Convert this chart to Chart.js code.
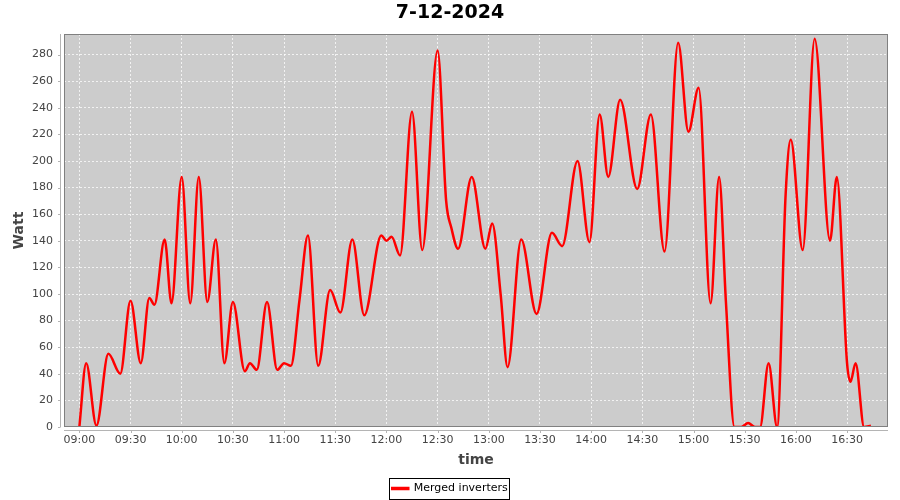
<!DOCTYPE html>
<html>
<head>
<meta charset="utf-8">
<script src="https://cdn.jsdelivr.net/npm/chart.js@4.4.1/dist/chart.umd.min.js"></script>
<style>
  html, body { margin: 0; padding: 0; background: #fff; }
</style>
</head>
<body>
<canvas id="powerChart" width="900" height="500"></canvas>
<script>
// readings of the merged inverters, time of day -> watt
const times = [
    '09:00', '09:04', '09:10', '09:17', '09:24', '09:30', '09:36', '09:41', '09:44', '09:50',
    '09:54', '10:00', '10:05', '10:10', '10:15', '10:20', '10:25', '10:30', '10:37', '10:40',
    '10:44', '10:50', '10:56', '11:00', '11:04', '11:09', '11:14', '11:20', '11:27', '11:33',
    '11:40', '11:47', '11:57', '12:00', '12:03', '12:08', '12:15', '12:21', '12:30', '12:35',
    '12:38', '12:42', '12:50', '12:58', '13:02', '13:07', '13:11', '13:19', '13:28', '13:37',
    '13:43', '13:52', '13:59', '14:05', '14:10', '14:17', '14:27', '14:35', '14:43', '14:51',
    '14:57', '15:03', '15:10', '15:15', '15:19', '15:24', '15:28', '15:32', '15:36', '15:39',
    '15:44', '15:49', '15:54', '15:57', '16:04', '16:11', '16:20', '16:24', '16:30', '16:32',
    '16:35', '16:40', '16:44'
];
const watts = [
    0, 48, 1, 55, 40, 95, 48, 97, 92, 141,
    93, 188, 93, 188, 94, 141, 48, 94, 42, 48,
    43, 94, 43, 48, 46, 95, 144, 46, 103, 86,
    141, 84, 144, 140, 143, 129, 237, 133, 283, 170,
    150, 134, 188, 134, 153, 99, 45, 141, 85, 146,
    136, 200, 139, 235, 188, 246, 179, 235, 132, 289,
    222, 255, 93, 188, 94, 0, 0, 3, 0, 0,
    48, 0, 175, 216, 133, 292, 140, 188, 48, 34,
    48, 0, 1
];
const xTickLabels = ['09:00', '09:30', '10:00', '10:30', '11:00', '11:30', '12:00', '12:30',
    '13:00', '13:30', '14:00', '14:30', '15:00', '15:30', '16:00', '16:30'];

let toMin = function (t) {
    return parseInt(t.slice(0, 2), 10) * 60 + parseInt(t.slice(3), 10);
};
let pad2 = function (n) {
    return String(n).padStart(2, '0');
};
let fmtTime = function (m) {
    return pad2(Math.floor(m / 60)) + ':' + pad2(m % 60);
};

let fontFamily = '"DejaVu Sans", sans-serif';
let tickColor = '#444444';

// gray plot background, outline, detached axis lines and the framed legend
let plotFrame = {
    id: 'plotFrame',
    beforeDraw(chart) {
        const {ctx, chartArea: a} = chart;
        ctx.save();
        ctx.fillStyle = '#cccccc';
        ctx.fillRect(a.left, a.top, a.right - a.left, a.bottom - a.top);
        ctx.restore();
    },
    afterDraw(chart) {
        const {ctx, chartArea: a, scales} = chart;
        ctx.save();
        ctx.lineWidth = 1;
        ctx.strokeStyle = '#808080';
        ctx.strokeRect(a.left + 0.5, a.top + 0.5, a.right - a.left - 1, a.bottom - a.top - 1);

        ctx.strokeStyle = '#b4b4b4';
        ctx.beginPath();
        ctx.moveTo(a.left - 3.5, a.top);
        ctx.lineTo(a.left - 3.5, a.bottom);
        ctx.moveTo(a.left, a.bottom + 3.5);
        ctx.lineTo(a.right, a.bottom + 3.5);
        scales.y.ticks.forEach(t => {
            const y = Math.round(scales.y.getPixelForValue(t.value)) + 0.5;
            ctx.moveTo(a.left - 6, y);
            ctx.lineTo(a.left - 3.5, y);
        });
        scales.x.ticks.forEach(t => {
            const x = Math.round(scales.x.getPixelForValue(t.value)) + 0.5;
            ctx.moveTo(x, a.bottom + 3.5);
            ctx.lineTo(x, a.bottom + 6);
        });
        ctx.stroke();

        const hb = chart.legend.legendHitBoxes[0];
        if (hb) {
            ctx.strokeStyle = '#000000';
            ctx.strokeRect(Math.round(hb.left - 3) + 0.5, Math.round(hb.top - 5) + 0.5,
                Math.round(hb.width + 5), Math.round(hb.height + 10));
        }
        ctx.restore();
    }
};

let chartData = {
    datasets: [{
        label: 'Merged inverters',
        data: times.map((t, i) => ({x: toMin(t), y: watts[i]})),
        borderColor: '#ff0000',
        backgroundColor: '#ff0000',
        borderWidth: 2.5,
        pointRadius: 0,
        cubicInterpolationMode: 'monotone',
        fill: false
    }]
};

let chartOption = {
    responsive: false,
    animation: false,
    devicePixelRatio: 1,
    layout: {padding: {left: 0, right: 0, top: 0, bottom: -4}},
    plugins: {
        title: {
            display: true,
            text: '7-12-2024',
            color: '#000000',
            font: {family: fontFamily, size: 19, weight: 'bold'},
            padding: {top: 2, bottom: 9.2}
        },
        legend: {
            display: true,
            position: 'bottom',
            labels: {
                color: '#000000',
                font: {family: fontFamily, size: 11},
                boxWidth: 16,
                boxHeight: 1,
                padding: 6
            }
        },
        tooltip: {enabled: false}
    },
    scales: {
        x: {
            type: 'linear',
            min: 531,
            max: 1014,
            afterBuildTicks: axis => {
                axis.ticks = xTickLabels.map(t => ({value: toMin(t)}));
            },
            afterFit: s => { s.height = 50; },
            ticks: {
                callback: v => fmtTime(v),
                color: tickColor,
                font: {family: fontFamily, size: 11},
                padding: 7,
                maxRotation: 0,
                autoSkip: false
            },
            grid: {color: 'rgba(255,255,255,0.75)', lineWidth: 1, drawTicks: false},
            border: {display: false, dash: [2, 2]},
            title: {
                display: true,
                text: 'time',
                color: tickColor,
                font: {family: fontFamily, size: 14, weight: 'bold'},
                padding: {top: 0, bottom: 8}
            }
        },
        y: {
            min: 0,
            max: 295.5,
            afterFit: s => { s.width = 64; },
            ticks: {
                stepSize: 20,
                includeBounds: false,
                color: tickColor,
                font: {family: fontFamily, size: 11},
                padding: 11
            },
            grid: {color: 'rgba(255,255,255,0.75)', lineWidth: 1, drawTicks: false},
            border: {display: false, dash: [2, 2]},
            title: {
                display: true,
                text: 'Watt',
                color: tickColor,
                font: {family: fontFamily, size: 14, weight: 'bold'},
                padding: {top: 11, bottom: 0}
            }
        },
        y2: {
            position: 'right',
            display: true,
            afterFit: s => { s.width = 12; },
            ticks: {display: false},
            grid: {display: false},
            border: {display: false}
        }
    }
};

window.powerChart = new Chart(document.getElementById('powerChart').getContext('2d'), {
    type: 'line',
    data: chartData,
    options: chartOption,
    plugins: [plotFrame]
});
</script>
</body>
</html>
